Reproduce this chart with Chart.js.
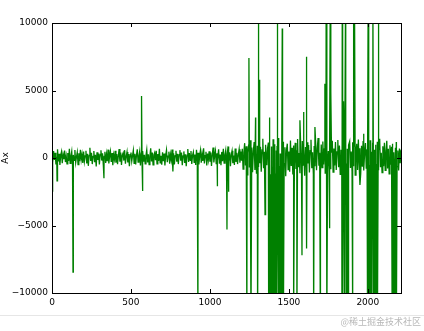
<!DOCTYPE html>
<html>
<head>
<meta charset="utf-8">
<script src="https://cdn.jsdelivr.net/npm/chart.js@4"></script>
<style>
  html, body { margin: 0; padding: 0; background: #fff; }
  #wrap { width: 424px; height: 331px; }
</style>
</head>
<body>
<div id="wrap"><canvas id="chart" width="424" height="331"></canvas></div>
<script>
// baseline samples, one every 5 along x (0 .. 2210)
const sampleStep = 5;
const noise = [
  210, -340, 520, -150, 380, -470, 90, 640, -260, 310, -520, 170, 450, -380, 260, -90, 560, -300, 140, -430,
  370, -210, 690, -400, 120, 480, -560, 230, -170, 590, -330, 80, 420, -490, 350, -240, 610, -120, 280, -360,
  470, -260, 150, 530, -410, 310, -580, 200, 760, -220, 390, -450, 120, 510, -310, 240, -620, 430, -140, 330,
  -480, 260, 570, -190, 350, -520, 110, 460, -370, 280, -230, 620, -410, 180, 500, -290, 370, -540, 230, -100,
  540, -350, 290, -460, 160, 660, -280, 410, -520, 220, 370, -190, 580, -420, 130, 450, -330, 300, -600, 250,
  400, -240, 170, 560, -390, 320, -470, 210, 650, -300, 110, 480, -550, 360, -160, 520, -280, 240, -430, 190,
  610, -330, 270, -480, 140, 720, -260, 400, -510, 230, 390, -170, 540, -440, 300, -210, 680, -360, 160, -500,
  420, -230, 330, -560, 200, 590, -310, 130, 470, -420, 260, -140, 630, -380, 350, -480, 180, 540, -270, 310,
  -450, 240, 580, -200, 400, -530, 150, 490, -360, 280, -600, 220, 670, -290, 360, -170, 510, -440, 190, 430,
  -320, 260, -510, 600, -230, 390, -470, 140, 550, -350, 300, -210, 720, -400, 180, 460, -560, 330, -130, 500,
  -280, 410, -590, 240, 780, -330, 170, 520, -460, 350, -190, 640, -420, 260, -540, 450, -230, 690, -370, 200,
  560, -480, 310, 860, -260, 420, -610, 240, 530, -390, 180, -520, 700, -300, 380, -450, 250, 640, -340, 470,
  -200,
  690, -820, 430, 1100, -560, 870, -1240, 380, 960, -700, 1320, -450, 780, -1050, 520, 1180, -880, 340, -1160, 910,
  -620, 1270, -380, 840, -1010, 600, 1430, -760, 470, -1290, 980, -540, 720, 1150, -930, 410, -1200, 860, -650, 1380,
  -470, 1020, -1150, 560, 880, -820, 1490, -600, 330, -1080, 940, -710, 1210, -420, 790, -1350, 620, 1060, -860, 480,
  -1020, 1300, -590, 750, -1230, 930, -440, 1120, -810, 580, 1410, -690, 360, -1130, 870, -980, 1250, -520, 690, -1310,
  820, -650, 1170, -400, 960, -1080, 540, 1350, -760, 420, -1190, 890, -610, 1060, -900, 730, 1480, -570, 380, -1250,
  990, -720, 1220, -480, 670, -1110, 860, 1390, -620, 510, -970, 1140, -830, 390, 1280, -1040, 700, -560, 1180, -880,
  460, 1330, -690, 920, -1210, 610, -860, 1440, -530, 780, -1120, 1020, -400, 690, -1360, 950, 1230, -740, 480, -990,
  1160, -610, 830, -1270, 540, 1050, -880, 1370, -470, 720, -1140, 910, -650, 1260, -920, 430, 1110, -790, 640, -1220,
  880, -540, 1310, -960, 470, 1080, -730, 620, -1330, 990, -450, 1200, -850, 560, 1420, -680, 390, -1090, 870, -610,
  1130, -920, 510, 1270, -770, 680, -1180, 940, -490, 830, 1050, -860, 420, -1010, 760, 1190, -640, 550, -930, 710,
  -380, 620
];

// isolated spikes
const spikeX = [
  3, 32, 133, 329, 567, 573, 766, 924, 1045, 1108, 1117,
  1234, 1247, 1260, 1289, 1302, 1306, 1312, 1349,
  1372, 1376, 1378, 1381, 1386, 1391, 1394, 1399, 1403, 1408, 1411, 1416, 1420,
  1426, 1432, 1436, 1441, 1445, 1449, 1453, 1458, 1463, 1466,
  1530, 1551, 1570, 1583, 1593, 1610, 1614, 1657, 1665, 1699,
  1728, 1736, 1741, 1756, 1762, 1766, 1836, 1838, 1841, 1846, 1850, 1854,
  1859, 1864, 1869, 1876, 1903, 1910, 1913, 1916, 1950, 1973,
  1996, 2002, 2006, 2011, 2016, 2021, 2026, 2032, 2037, 2042, 2047, 2052, 2057, 2061, 2066,
  2154, 2158, 2163, 2168, 2176, 2181
];
const spikeY = [
  -2500, -1700, -8450, -1500, 4600, -2450, -1000, -12000, -2100, -5300, -2500,
  -12000, 7400, -12000, 3000, -12000, 12000, 5800, -4200,
  -12000, -12000, 3000, -12000, -12000, -12000, -12000, -12000, -12000, -12000, -12000, -12000, -12000,
  12000, -12000, -12000, -12000, -12000, -12000, -12000, 9600, -12000, -12000,
  -12000, -12000, 2800, -7200, 3400, 7500, -6700, -12000, 2300, -12000,
  5500, 12000, -12000, -5200, 12000, 4900, -12000, 12000, -12000, 4200, -12000, -12000,
  12000, -12000, -12000, -12000, -12000, 12000, 12000, 12000, -2000, 1800,
  -12000, 12000, -12000, -12000, -12000, -12000, -12000, 12000, -12000, -12000, -12000, -12000, -12000, -12000, 12000,
  -12000, -12000, -12000, -12000, -12000, -12000
];

const xTicks = [0, 500, 1000, 1500, 2000];
const yTicks = [-10000, -5000, 0, 5000, 10000];

function build_points() {
  const pts = noise.map((v, i) => ({ x: i * sampleStep, y: v }));
  spikeX.forEach((x, i) => pts.push({ x: x, y: spikeY[i] }));
  pts.sort((a, b) => a.x - b.x);
  return pts;
}

function fmt(v) {
  return v < 0 ? '\u2212' + Math.abs(v) : String(v);
}

// matplotlib-like frame with inward ticks, plus the page footer
const framePlugin = {
  id: 'frame',
  afterDraw: (chart) => {
    const ctx = chart.ctx;
    const { left, right, top, bottom } = chart.chartArea;
    const xs = chart.scales.x, ys = chart.scales.y;
    ctx.save();
    ctx.strokeStyle = '#000';
    ctx.lineWidth = 1;
    ctx.beginPath();
    xTicks.forEach(t => {
      const px = Math.round(xs.getPixelForValue(t)) + 0.5;
      ctx.moveTo(px, bottom); ctx.lineTo(px, bottom - 4);
      ctx.moveTo(px, top); ctx.lineTo(px, top + 4);
    });
    yTicks.forEach(t => {
      const py = Math.round(ys.getPixelForValue(t)) + 0.5;
      ctx.moveTo(left, py); ctx.lineTo(left + 4, py);
      ctx.moveTo(right, py); ctx.lineTo(right - 4, py);
    });
    ctx.stroke();
    ctx.strokeRect(Math.round(left) + 0.5, Math.round(top) + 0.5,
      Math.round(right - left), Math.round(bottom - top));

    ctx.strokeStyle = '#e6e6e6';
    ctx.beginPath();
    ctx.moveTo(0, 315.5); ctx.lineTo(424, 315.5);
    ctx.stroke();
    ctx.fillStyle = '#b8b8b8';
    ctx.font = '9px "Noto Sans CJK SC"';
    ctx.textAlign = 'right';
    ctx.textBaseline = 'middle';
    ctx.fillText('@稀土掘金技术社区', 421, 322);
    ctx.restore();
  }
};

const tickFont = { family: 'DejaVu Sans', size: 9 };

const config = {
  type: 'line',
  data: {
    datasets: [{
      data: build_points(),
      borderColor: '#008000',
      borderWidth: 1.3,
      pointRadius: 0,
      tension: 0,
      fill: false
    }]
  },
  options: {
    responsive: false,
    animation: false,
    layout: { padding: { left: 0, right: 23, top: 23, bottom: 0 } },
    plugins: { legend: { display: false }, tooltip: { enabled: false } },
    scales: {
      x: {
        type: 'linear',
        min: 0,
        max: 2210,
        grid: { display: false, drawTicks: false },
        border: { display: false },
        ticks: { padding: 4, color: '#000', font: tickFont, maxRotation: 0, autoSkip: false, callback: (v) => fmt(v) },
        afterBuildTicks: (scale) => { scale.ticks = xTicks.map(v => ({ value: v })); },
        afterFit: (scale) => { scale.height = 38; }
      },
      y: {
        min: -10000,
        max: 10000,
        grid: { display: false, drawTicks: false },
        border: { display: false },
        ticks: { padding: 4, color: '#000', font: tickFont, autoSkip: false, callback: (v) => fmt(v) },
        afterBuildTicks: (scale) => { scale.ticks = yTicks.map(v => ({ value: v })); },
        title: {
          display: true,
          text: 'Ax',
          color: '#000',
          font: tickFont,
          padding: { top: 0, bottom: 0 }
        },
        afterFit: (scale) => { scale.width = 52; }
      }
    }
  },
  plugins: [framePlugin]
};

new Chart(document.getElementById('chart'), config);
</script>
</body>
</html>
